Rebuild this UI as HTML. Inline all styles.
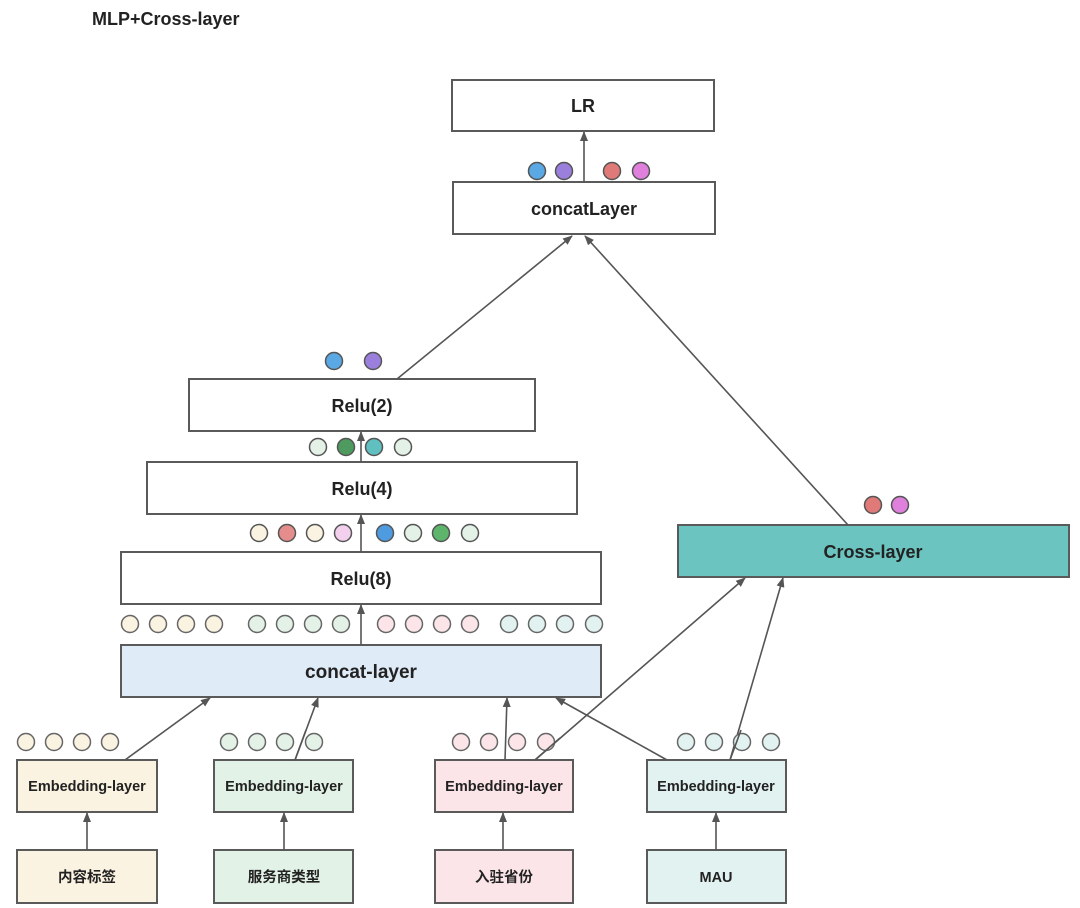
<!DOCTYPE html>
<html><head><meta charset="utf-8"><style>
html,body{margin:0;padding:0;background:#fff;}
svg{display:block;}
text{font-family:"Liberation Sans","Noto Sans CJK SC",sans-serif;font-weight:bold;fill:#222;}
</style></head><body>
<svg width="1080" height="908" viewBox="0 0 1080 908" xmlns="http://www.w3.org/2000/svg">
<defs>
<marker id="a" markerWidth="10" markerHeight="10" refX="9" refY="5" orient="auto" markerUnits="userSpaceOnUse">
<path d="M0,1 L10,5 L0,9 Z" fill="#555"/>
</marker>
</defs>
<text x="92" y="25" font-size="18">MLP+Cross-layer</text>

<g stroke="#5a5a5a" stroke-width="2">
<rect x="452" y="80" width="262" height="51" fill="#fff"/>
<rect x="453" y="182" width="262" height="52" fill="#fff"/>
<rect x="189" y="379" width="346" height="52" fill="#fff"/>
<rect x="147" y="462" width="430" height="52" fill="#fff"/>
<rect x="121" y="552" width="480" height="52" fill="#fff"/>
<rect x="121" y="645" width="480" height="52" fill="#dfebf7"/>
<rect x="678" y="525" width="391" height="52" fill="#6cc4c1"/>
<rect x="17" y="760" width="140" height="52" fill="#fbf3e1"/>
<rect x="214" y="760" width="139" height="52" fill="#e3f2e6"/>
<rect x="435" y="760" width="138" height="52" fill="#fbe5e8"/>
<rect x="647" y="760" width="139" height="52" fill="#e2f2f1"/>
<rect x="17" y="850" width="140" height="53" fill="#fbf3e1"/>
<rect x="214" y="850" width="139" height="53" fill="#e3f2e6"/>
<rect x="435" y="850" width="138" height="53" fill="#fbe5e8"/>
<rect x="647" y="850" width="139" height="53" fill="#e2f2f1"/>
</g>

<g stroke="#555" stroke-width="1.6" fill="none" marker-end="url(#a)">
<line x1="584" y1="182" x2="584" y2="132"/>
<line x1="397" y1="379" x2="572" y2="236"/>
<line x1="848" y1="525" x2="585" y2="236"/>
<line x1="361" y1="462" x2="361" y2="432"/>
<line x1="361" y1="552" x2="361" y2="515"/>
<line x1="361" y1="645" x2="361" y2="605"/>
<line x1="125" y1="760" x2="210" y2="698"/>
<line x1="295" y1="760" x2="318" y2="698"/>
<line x1="505" y1="760" x2="507" y2="698"/>
<line x1="667" y1="760" x2="556" y2="698"/>
<line x1="535" y1="760" x2="745" y2="578"/>
<line x1="730" y1="760" x2="783" y2="578"/>
<line x1="87" y1="850" x2="87" y2="813"/>
<line x1="284" y1="850" x2="284" y2="813"/>
<line x1="503" y1="850" x2="503" y2="813"/>
<line x1="716" y1="850" x2="716" y2="813"/>
</g>

<g stroke="#555" stroke-width="1.5">
<circle cx="537" cy="171" r="8.5" fill="#5aa8e4"/>
<circle cx="564" cy="171" r="8.5" fill="#9b7fdc"/>
<circle cx="612" cy="171" r="8.5" fill="#e07a78"/>
<circle cx="641" cy="171" r="8.5" fill="#df80dc"/>
<circle cx="334" cy="361" r="8.5" fill="#5aa8e4"/>
<circle cx="373" cy="361" r="8.5" fill="#9b7fdc"/>
<circle cx="318" cy="447" r="8.5" fill="#e3f1e6"/>
<circle cx="346" cy="447" r="8.5" fill="#4f9a5e"/>
<circle cx="374" cy="447" r="8.5" fill="#5fc0bf"/>
<circle cx="403" cy="447" r="8.5" fill="#e3f1e6"/>
<circle cx="259" cy="533" r="8.5" fill="#fbf3e1"/>
<circle cx="287" cy="533" r="8.5" fill="#e48d8c"/>
<circle cx="315" cy="533" r="8.5" fill="#fbf3e1"/>
<circle cx="343" cy="533" r="8.5" fill="#f4d0ef"/>
<circle cx="385" cy="533" r="8.5" fill="#4f9be0"/>
<circle cx="413" cy="533" r="8.5" fill="#e3f1e6"/>
<circle cx="441" cy="533" r="8.5" fill="#5db56c"/>
<circle cx="470" cy="533" r="8.5" fill="#e3f1e6"/>
<circle cx="873" cy="505" r="8.5" fill="#e07a78"/>
<circle cx="900" cy="505" r="8.5" fill="#df80dc"/>
</g>
<g stroke="#666" stroke-width="1.5">
<g fill="#fbf3e1"><circle cx="130" cy="624" r="8.5"/><circle cx="158" cy="624" r="8.5"/><circle cx="186" cy="624" r="8.5"/><circle cx="214" cy="624" r="8.5"/>
<circle cx="26" cy="742" r="8.5"/><circle cx="54" cy="742" r="8.5"/><circle cx="82" cy="742" r="8.5"/><circle cx="110" cy="742" r="8.5"/></g>
<g fill="#e3f1e6"><circle cx="257" cy="624" r="8.5"/><circle cx="285" cy="624" r="8.5"/><circle cx="313" cy="624" r="8.5"/><circle cx="341" cy="624" r="8.5"/>
<circle cx="229" cy="742" r="8.5"/><circle cx="257" cy="742" r="8.5"/><circle cx="285" cy="742" r="8.5"/><circle cx="314" cy="742" r="8.5"/></g>
<g fill="#fbe5e8"><circle cx="386" cy="624" r="8.5"/><circle cx="414" cy="624" r="8.5"/><circle cx="442" cy="624" r="8.5"/><circle cx="470" cy="624" r="8.5"/>
<circle cx="461" cy="742" r="8.5"/><circle cx="489" cy="742" r="8.5"/><circle cx="517" cy="742" r="8.5"/><circle cx="546" cy="742" r="8.5"/></g>
<g fill="#e2f2f1"><circle cx="509" cy="624" r="8.5"/><circle cx="537" cy="624" r="8.5"/><circle cx="565" cy="624" r="8.5"/><circle cx="594" cy="624" r="8.5"/>
<circle cx="686" cy="742" r="8.5"/><circle cx="714" cy="742" r="8.5"/><circle cx="742" cy="742" r="8.5"/><circle cx="771" cy="742" r="8.5"/></g>
</g>
<!-- redraw crossing lines over embedding dots -->
<g stroke="#555" stroke-width="1.6">
<line x1="295" y1="760" x2="306" y2="730"/>
<line x1="535" y1="760" x2="560" y2="738"/>
<line x1="730" y1="760" x2="741" y2="730"/>
</g>

<g text-anchor="middle" font-size="18">
<text x="583" y="112">LR</text>
<text x="584" y="215">concatLayer</text>
<text x="362" y="412">Relu(2)</text>
<text x="362" y="495">Relu(4)</text>
<text x="361" y="585">Relu(8)</text>
<text x="361" y="678" font-size="19">concat-layer</text>
<text x="873" y="558" fill="#163a3a">Cross-layer</text>
</g>
<g text-anchor="middle" font-size="14.5">
<text x="87" y="791">Embedding-layer</text>
<text x="284" y="791">Embedding-layer</text>
<text x="504" y="791">Embedding-layer</text>
<text x="716" y="791">Embedding-layer</text>
<text x="87" y="882">内容标签</text>
<text x="284" y="882">服务商类型</text>
<text x="504" y="882">入驻省份</text>
<text x="716" y="882">MAU</text>
</g>
</svg>
</body></html>
